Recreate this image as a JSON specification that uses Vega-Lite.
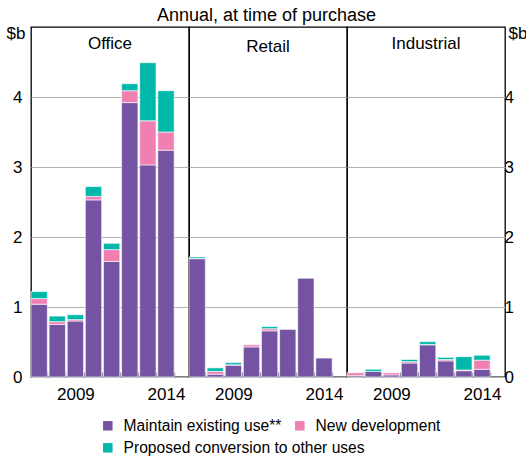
{
  "$schema": "https://vega.github.io/schema/vega-lite/v6.json",
  "padding": {"left": 5, "top": 7, "right": 0, "bottom": 0},
  "title": {"text": "Annual, at time of purchase", "fontSize": 18, "font": "Liberation Sans", "fontWeight": "normal", "color": "#000", "offset": -2, "anchor": "middle"},
  "data": {"values": [
    {"sector": "Office", "year": 2007, "series": "Maintain existing use**", "value": 1.04},
    {"sector": "Office", "year": 2007, "series": "New development", "value": 0.08},
    {"sector": "Office", "year": 2007, "series": "Proposed conversion to other uses", "value": 0.10},
    {"sector": "Office", "year": 2008, "series": "Maintain existing use**", "value": 0.75},
    {"sector": "Office", "year": 2008, "series": "New development", "value": 0.04},
    {"sector": "Office", "year": 2008, "series": "Proposed conversion to other uses", "value": 0.08},
    {"sector": "Office", "year": 2009, "series": "Maintain existing use**", "value": 0.80},
    {"sector": "Office", "year": 2009, "series": "New development", "value": 0.02},
    {"sector": "Office", "year": 2009, "series": "Proposed conversion to other uses", "value": 0.07},
    {"sector": "Office", "year": 2010, "series": "Maintain existing use**", "value": 2.53},
    {"sector": "Office", "year": 2010, "series": "New development", "value": 0.05},
    {"sector": "Office", "year": 2010, "series": "Proposed conversion to other uses", "value": 0.14},
    {"sector": "Office", "year": 2011, "series": "Maintain existing use**", "value": 1.65},
    {"sector": "Office", "year": 2011, "series": "New development", "value": 0.17},
    {"sector": "Office", "year": 2011, "series": "Proposed conversion to other uses", "value": 0.09},
    {"sector": "Office", "year": 2012, "series": "Maintain existing use**", "value": 3.92},
    {"sector": "Office", "year": 2012, "series": "New development", "value": 0.17},
    {"sector": "Office", "year": 2012, "series": "Proposed conversion to other uses", "value": 0.10},
    {"sector": "Office", "year": 2013, "series": "Maintain existing use**", "value": 3.03},
    {"sector": "Office", "year": 2013, "series": "New development", "value": 0.63},
    {"sector": "Office", "year": 2013, "series": "Proposed conversion to other uses", "value": 0.83},
    {"sector": "Office", "year": 2014, "series": "Maintain existing use**", "value": 3.24},
    {"sector": "Office", "year": 2014, "series": "New development", "value": 0.26},
    {"sector": "Office", "year": 2014, "series": "Proposed conversion to other uses", "value": 0.59},
    {"sector": "Retail", "year": 2007, "series": "Maintain existing use**", "value": 1.69},
    {"sector": "Retail", "year": 2007, "series": "New development", "value": 0.005},
    {"sector": "Retail", "year": 2007, "series": "Proposed conversion to other uses", "value": 0.02},
    {"sector": "Retail", "year": 2008, "series": "Maintain existing use**", "value": 0.04},
    {"sector": "Retail", "year": 2008, "series": "New development", "value": 0.04},
    {"sector": "Retail", "year": 2008, "series": "Proposed conversion to other uses", "value": 0.05},
    {"sector": "Retail", "year": 2009, "series": "Maintain existing use**", "value": 0.17},
    {"sector": "Retail", "year": 2009, "series": "New development", "value": 0.005},
    {"sector": "Retail", "year": 2009, "series": "Proposed conversion to other uses", "value": 0.03},
    {"sector": "Retail", "year": 2010, "series": "Maintain existing use**", "value": 0.43},
    {"sector": "Retail", "year": 2010, "series": "New development", "value": 0.03},
    {"sector": "Retail", "year": 2011, "series": "Maintain existing use**", "value": 0.66},
    {"sector": "Retail", "year": 2011, "series": "New development", "value": 0.03},
    {"sector": "Retail", "year": 2011, "series": "Proposed conversion to other uses", "value": 0.03},
    {"sector": "Retail", "year": 2012, "series": "Maintain existing use**", "value": 0.68},
    {"sector": "Retail", "year": 2013, "series": "Maintain existing use**", "value": 1.41},
    {"sector": "Retail", "year": 2014, "series": "Maintain existing use**", "value": 0.27},
    {"sector": "Industrial", "year": 2007, "series": "Maintain existing use**", "value": 0.02},
    {"sector": "Industrial", "year": 2007, "series": "New development", "value": 0.04},
    {"sector": "Industrial", "year": 2008, "series": "Maintain existing use**", "value": 0.08},
    {"sector": "Industrial", "year": 2008, "series": "Proposed conversion to other uses", "value": 0.03},
    {"sector": "Industrial", "year": 2009, "series": "Maintain existing use**", "value": 0.03},
    {"sector": "Industrial", "year": 2009, "series": "New development", "value": 0.03},
    {"sector": "Industrial", "year": 2010, "series": "Maintain existing use**", "value": 0.20},
    {"sector": "Industrial", "year": 2010, "series": "New development", "value": 0.02},
    {"sector": "Industrial", "year": 2010, "series": "Proposed conversion to other uses", "value": 0.03},
    {"sector": "Industrial", "year": 2011, "series": "Maintain existing use**", "value": 0.46},
    {"sector": "Industrial", "year": 2011, "series": "New development", "value": 0.005},
    {"sector": "Industrial", "year": 2011, "series": "Proposed conversion to other uses", "value": 0.04},
    {"sector": "Industrial", "year": 2012, "series": "Maintain existing use**", "value": 0.23},
    {"sector": "Industrial", "year": 2012, "series": "New development", "value": 0.02},
    {"sector": "Industrial", "year": 2012, "series": "Proposed conversion to other uses", "value": 0.03},
    {"sector": "Industrial", "year": 2013, "series": "Maintain existing use**", "value": 0.09},
    {"sector": "Industrial", "year": 2013, "series": "New development", "value": 0.01},
    {"sector": "Industrial", "year": 2013, "series": "Proposed conversion to other uses", "value": 0.19},
    {"sector": "Industrial", "year": 2014, "series": "Maintain existing use**", "value": 0.11},
    {"sector": "Industrial", "year": 2014, "series": "New development", "value": 0.13},
    {"sector": "Industrial", "year": 2014, "series": "Proposed conversion to other uses", "value": 0.07}
  ]},
  "spacing": 0,
  "bounds": "flush",
  "resolve": {"scale": {"y": "shared", "color": "shared"}},
  "config": {
    "font": "Liberation Sans",
    "view": {"stroke": "#000", "strokeWidth": 1.3},
    "axis": {"labelFont": "Liberation Sans", "labelFontSize": 17, "labelColor": "#000", "titleFont": "Liberation Sans", "titleFontSize": 17, "titleFontWeight": "normal", "titleColor": "#000"},
    "title": {"font": "Liberation Sans", "fontWeight": "normal", "color": "#000"},
    "legend": {"labelFont": "Liberation Sans", "labelFontSize": 15.6, "labelColor": "#000"}
  },
  "hconcat": [
    {
      "width": 158, "height": 350,
      "title": {"text": "Office", "fontSize": 17, "offset": -42, "baseline": "alphabetic", "frame": "group"},
      "transform": [{"filter": "datum.sector === 'Office'"}],
      "mark": {"type": "bar", "stroke": "#ffffff", "strokeWidth": 0.6},
      "encoding": {
        "x": {"field": "year", "type": "ordinal", "scale": {"paddingInner": 0.1, "paddingOuter": 0.41, "align": 0},
              "axis": {"title": null, "labelAngle": 0, "labelExpr": "datum.value == 2009 || datum.value == 2014 ? datum.label : ''", "tickBand": "extent", "tickSize": -5, "tickColor": "#888", "tickWidth": 1.5, "domain": false, "labelPadding": 14}},
        "y": {"field": "value", "type": "quantitative", "stack": "zero", "scale": {"domain": [0, 5], "nice": false},
              "axis": {"values": [0, 1, 2, 3, 4], "title": "$b", "titleAngle": 0, "titleAlign": "left", "titleBaseline": "top", "titleX": -25, "titleY": -2, "tickSize": 0, "labelPadding": 9, "domain": false, "grid": true, "gridColor": "#b3b3b3"}},
        "color": {"field": "series", "type": "nominal",
                  "scale": {"domain": ["Maintain existing use**", "New development", "Proposed conversion to other uses"], "range": ["#7453A2", "#F07FB2", "#00B8A9"]},
                  "legend": {"title": null, "orient": "none", "legendX": 69, "legendY": 391, "direction": "horizontal", "columns": 2, "gridAlign": "none", "symbolType": "square", "symbolSize": 90, "symbolStrokeWidth": 0, "labelOffset": 8, "labelLimit": 400, "columnPadding": -73, "rowPadding": 5}},
        "order": {"field": "series", "sort": "ascending"}
      }
    },
    {
      "width": 158, "height": 350,
      "title": {"text": "Retail", "fontSize": 17, "offset": -42, "baseline": "alphabetic", "frame": "group"},
      "transform": [{"filter": "datum.sector === 'Retail'"}],
      "mark": {"type": "bar", "stroke": "#ffffff", "strokeWidth": 0.6},
      "encoding": {
        "x": {"field": "year", "type": "ordinal", "scale": {"paddingInner": 0.1, "paddingOuter": 0.41, "align": 0},
              "axis": {"title": null, "labelAngle": 0, "labelExpr": "datum.value == 2009 || datum.value == 2014 ? datum.label : ''", "tickBand": "extent", "tickSize": -5, "tickColor": "#888", "tickWidth": 1.5, "domain": false, "labelPadding": 14}},
        "y": {"field": "value", "type": "quantitative", "stack": "zero", "scale": {"domain": [0, 5], "nice": false},
              "axis": {"values": [0, 1, 2, 3, 4], "title": null, "labels": false, "ticks": false, "domain": false, "grid": true, "gridColor": "#b3b3b3"}},
        "color": {"field": "series", "type": "nominal"},
        "order": {"field": "series", "sort": "ascending"}
      }
    },
    {
      "width": 158, "height": 350,
      "title": {"text": "Industrial", "fontSize": 17, "offset": -42, "baseline": "alphabetic", "frame": "group"},
      "transform": [{"filter": "datum.sector === 'Industrial'"}],
      "mark": {"type": "bar", "stroke": "#ffffff", "strokeWidth": 0.6},
      "encoding": {
        "x": {"field": "year", "type": "ordinal", "scale": {"paddingInner": 0.1, "paddingOuter": 0.41, "align": 0},
              "axis": {"title": null, "labelAngle": 0, "labelExpr": "datum.value == 2009 || datum.value == 2014 ? datum.label : ''", "tickBand": "extent", "tickSize": -5, "tickColor": "#888", "tickWidth": 1.5, "domain": false, "labelPadding": 14}},
        "y": {"field": "value", "type": "quantitative", "stack": "zero", "scale": {"domain": [0, 5], "nice": false},
              "axis": {"orient": "right", "values": [0, 1, 2, 3, 4], "title": "$b", "titleAngle": 0, "titleAlign": "left", "titleBaseline": "top", "titleX": 3, "titleY": -2, "tickSize": 0, "labelPadding": -1, "domain": false, "grid": true, "gridColor": "#b3b3b3"}},
        "color": {"field": "series", "type": "nominal"},
        "order": {"field": "series", "sort": "ascending"}
      }
    }
  ]
}
